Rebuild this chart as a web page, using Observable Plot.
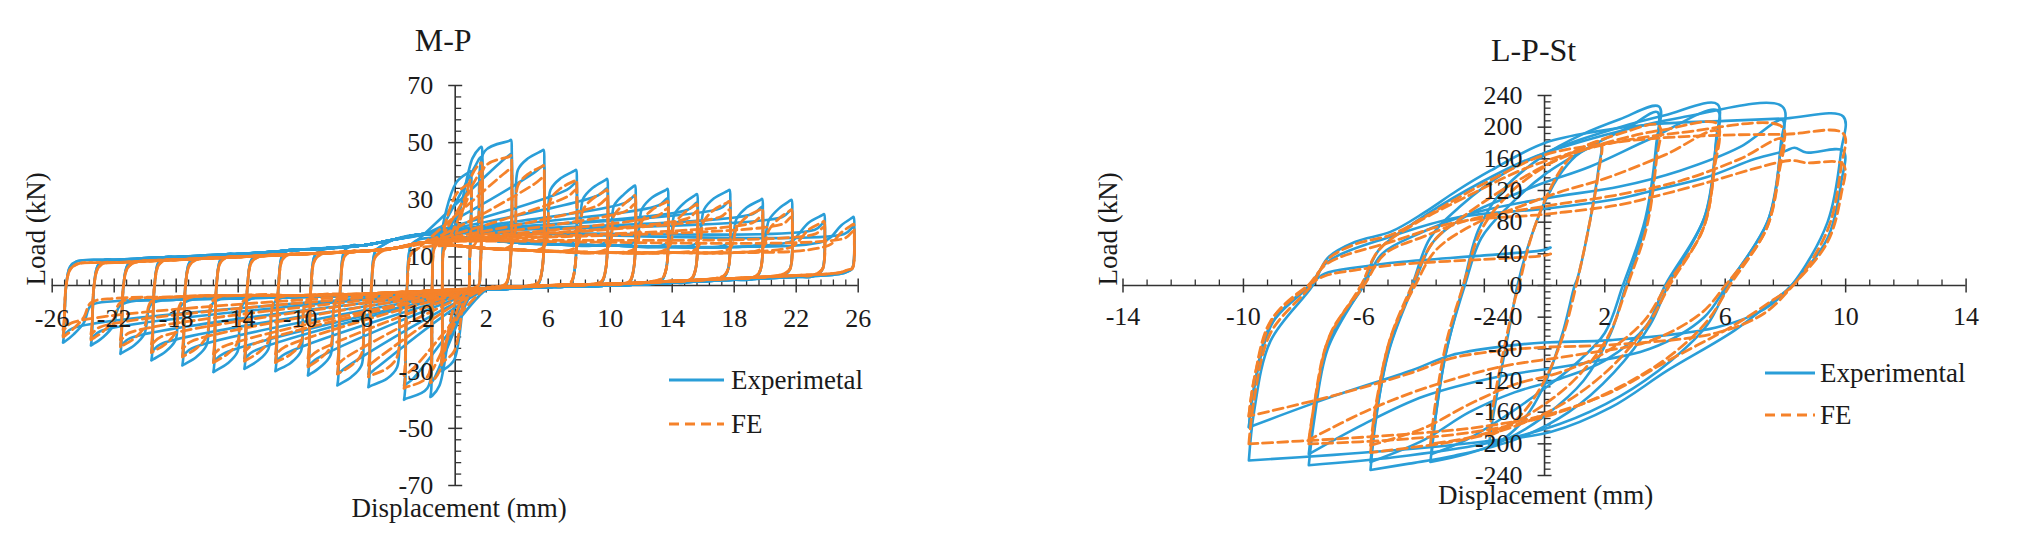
<!DOCTYPE html>
<html><head><meta charset="utf-8">
<script src="https://cdn.jsdelivr.net/npm/d3@7"></script>
<script src="https://cdn.jsdelivr.net/npm/@observablehq/plot@0.6"></script>
<style>
body{margin:0;background:#fff;}
#wrap{position:relative;width:2020px;height:544px;overflow:hidden;background:#fff;}
#wrap svg{position:absolute;top:0;}
</style></head><body><div id="wrap"></div>
<script>
// ---------- M-P (left chart) ----------
const mpXMajor = [-26,-22,-18,-14,-10,-6,-2,2,6,10,14,18,22,26];
const mpYMajor = [70,50,30,10,-10,-30,-50,-70];
const mpAmp  = [1.0, 1.7, 3.6, 5.7, 7.8, 9.8, 11.6, 13.7, 15.6, 17.7, 19.8, 21.7, 23.8, 25.7];
const mpAmpN = [-0.9, -1.6, -3.3, -5.6, -7.6, -9.5, -11.6, -13.6, -15.6, -17.6, -19.6, -21.6, -23.5, -25.3];
// where the steep loading toward a new peak starts
const mpRiseP = [-0.8, -0.3, 1.2, 3.6, 5.7, 7.8, 9.8, 11.6, 13.7, 15.6, 17.7, 19.8, 21.7, 23.8];
const mpRiseN = [0.6, 0.3, -1.2, -3.3, -5.6, -7.6, -9.5, -11.6, -13.6, -15.6, -17.6, -19.6, -21.6, -23.5];
const mpExpPos1 = [40, 48.5, 51, 47.5, 40.5, 37.3, 35, 33.8, 32, 33.5, 30.3, 30, 25, 24];
const mpExpPos2 = [36, 45, 46, 42, 36, 34, 31.5, 30.5, 29, 29.5, 27.5, 26.5, 22, 20.5];
const mpExpNeg1 = [-30, -39, -40, -35.6, -35, -31.5, -30, -29.2, -30.3, -28, -26.2, -23.9, -21, -20];
const mpExpNeg2 = [-27, -34, -35, -31, -31, -28, -26.5, -25.5, -26.5, -24.5, -23, -21, -18.5, -17.5];
const mpFePos1 = [36, 43, 45.5, 42, 37, 33.5, 31.5, 29.5, 28.5, 29.5, 27, 26.5, 22.5, 21.5];
const mpFePos2 = [33, 40, 41, 38, 33.5, 30.5, 28.5, 27, 26, 26.5, 24.5, 24, 20.5, 19];
const mpFeNeg1 = [-27, -34, -36, -32, -31, -28.5, -27, -26.5, -27, -25, -23.5, -21.5, -19, -18];
const mpFeNeg2 = [-24, -30, -31.5, -28, -27.5, -25.5, -24, -23, -24, -22, -20.5, -19, -17, -15.5];
const mpBandX   = [-26,-22,-18,-14,-10,-6,-4,-2,0,2,4,6,10,14,18,22,26];
const mpExpUp   = [8.5, 9, 10, 11, 12.5, 14, 16, 18, 17, 16, 15, 14.5, 14, 13.5, 13.5, 14, 15];
const mpFeUp    = [7.5, 8, 9, 10, 11, 12, 13, 15, 14, 13, 12.5, 12, 11.5, 11.5, 11.5, 12, 13];
const mpExpLow  = [-6, -5.5, -5, -4.5, -4, -3.5, -3, -2.5, -2, -1.5, -1, -0.5, 0, 1, 2, 3, 4];
const mpFeLow   = [-5, -4.5, -4, -3.5, -3.5, -3, -2.5, -2, -1.5, -1, -0.5, 0, 0.5, 1.5, 2.5, 3.5, 4.5];

// ---------- L-P-St (right chart) ----------
const lpXMajor = [-14,-10,-6,-2,2,6,10,14];
const lpYMajor = [240,200,160,120,80,40,0,-40,-80,-120,-160,-200,-240];
const lpExp1 = [[-1.85,-204],[-1.75,-175],[-1.45,-110],[-1.1,-40],[-0.9,0],[-0.5,55],[0,105],[0.6,145],[1.2,168],[1.86,177],[1.8,150],[1.5,80],[1.1,10],[1.0,0],[0.6,-60],[0,-125],[-0.7,-170],[-1.3,-192],[-1.85,-204]];
const lpExp2 = [[-3.79,-223],[-3.65,-175],[-3.3,-90],[-2.7,0],[-2.2,70],[-1.4,120],[0,165],[1.2,190],[2.5,210],[3.8,226],[3.75,185],[3.45,90],[2.7,0],[2.2,-60],[1.3,-120],[0,-165],[-1.3,-195],[-2.6,-213],[-3.79,-223]];
const lpExp2b = [[-3.75,-213],[-3.6,-160],[-3.25,-80],[-2.65,0],[-2.1,60],[-1.2,100],[0,140],[1.5,175],[2.8,200],[3.75,219],[3.7,175],[3.35,85],[2.6,0],[2.0,-60],[1.0,-100],[0,-130],[-1.3,-165],[-2.6,-195],[-3.75,-213]];
const lpExp3 = [[-5.78,-233],[-5.62,-175],[-5.2,-85],[-4.4,0],[-3.8,60],[-2.8,100],[-1.2,145],[0.5,175],[2.5,200],[4,215],[5.74,229],[5.7,185],[5.35,90],[4.1,0],[3.5,-50],[2.3,-110],[0.8,-160],[-1,-195],[-3,-215],[-4.5,-225],[-5.78,-233]];
const lpExp3b = [[-5.78,-223],[-5.6,-165],[-5.15,-80],[-4.35,0],[-3.7,55],[-2.5,90],[-1,115],[0,130],[1.5,150],[3.5,185],[5.74,221],[5.68,175],[5.3,85],[4.0,0],[3.4,-50],[2,-95],[0.5,-118],[-1,-135],[-2.5,-160],[-4,-195],[-5.78,-223]];
const lpExp4 = [[-7.83,-227],[-7.65,-170],[-7.2,-80],[-6.05,0],[-5.5,45],[-4.3,80],[-2.6,120],[-0.5,160],[2,190],[4.5,212],[7.9,226],[7.85,180],[7.45,85],[6.1,0],[5.4,-50],[4.2,-95],[2.5,-140],[0.5,-175],[-2,-200],[-5,-217],[-7.83,-227]];
const lpExp4b = [[-7.83,-213],[-7.65,-160],[-7.15,-70],[-6.0,0],[-5.4,40],[-4.2,65],[-2.5,90],[0,110],[2.5,125],[4.5,145],[6.5,175],[7.9,209],[7.82,165],[7.4,80],[6.05,0],[5.3,-40],[3.5,-80],[1,-100],[-1.5,-115],[-4,-140],[-6,-175],[-7.83,-213]];
const lpExp5 = [[-9.82,-221],[-9.65,-160],[-9.1,-70],[-7.7,0],[-7.2,35],[-6.3,55],[-5.1,68],[-4,92],[-2.9,120],[-1.8,145],[0,180],[1.8,195],[3.7,204],[6,208],[8,211],[9.92,213.5],[9.85,170],[9.4,80],[8.2,0],[7.6,-19],[6.3,-57],[4.1,-107],[2.2,-154],[0.2,-185],[-2,-197],[-4,-205],[-7,-214],[-9.82,-221]];
const lpExp5b = [[-9.82,-179],[-9.65,-130],[-9.1,-50],[-7.8,0],[-7.2,30],[-5.1,62],[-2.9,86],[0,97],[2.5,110],[3.6,120],[5.4,137],[7.0,160],[8.0,170],[8.3,174],[8.7,168],[9.92,170],[9.85,130],[9.4,60],[8.2,0],[7.3,-30],[5.7,-53],[2.2,-69],[0,-72],[-1.4,-77],[-3.1,-88],[-4.4,-107],[-7.1,-141],[-9.82,-179]];
const lpExpEnd = [[-9.82,-179],[-9.6,-120],[-9.0,-45],[-7.8,0],[-7.3,15],[-6.2,23],[-4.7,30],[-2,38],[0,45],[0.2,48]];

const lpFe1 = [[-1.85,-190],[-1.7,-150],[-1.4,-90],[-1.0,-20],[-0.85,0],[-0.45,60],[0.1,115],[0.7,155],[1.3,175],[1.86,181],[1.78,140],[1.45,70],[1.05,0],[0.6,-65],[0,-120],[-0.7,-160],[-1.3,-180],[-1.85,-190]];
const lpFe2 = [[-3.79,-200],[-3.63,-150],[-3.25,-70],[-2.7,0],[-2.1,70],[-1.2,115],[0,150],[1.3,175],[2.6,193],[3.8,202],[3.72,160],[3.4,75],[2.75,0],[2.1,-65],[1.1,-115],[0,-150],[-1.3,-178],[-2.6,-193],[-3.79,-200]];
const lpFe3 = [[-5.78,-211],[-5.6,-155],[-5.15,-70],[-4.4,0],[-3.7,55],[-2.6,90],[-1,130],[0.5,160],[2.5,185],[4,197],[5.74,204],[5.66,160],[5.3,75],[4.15,0],[3.5,-45],[2.3,-100],[0.8,-145],[-1,-178],[-3,-197],[-4.5,-205],[-5.78,-211]];
const lpFe3b = [[-5.78,-202],[-5.6,-150],[-5.1,-65],[-4.3,0],[-3.6,45],[-2.3,78],[-0.8,100],[0.5,118],[2,135],[4,165],[5.74,195],[5.65,150],[5.25,70],[4.05,0],[3.3,-45],[2,-85],[0.5,-110],[-1,-125],[-2.5,-150],[-4,-180],[-5.78,-202]];
const lpFe4 = [[-7.83,-200],[-7.65,-150],[-7.2,-70],[-6.1,0],[-5.5,45],[-4.3,78],[-2.6,112],[-0.5,150],[2,178],[4.5,193],[7.9,200],[7.82,160],[7.4,75],[6.15,0],[5.4,-45],[4.2,-88],[2.5,-128],[0.5,-160],[-2,-183],[-5,-195],[-7.83,-200]];
const lpFe4b = [[-7.83,-195],[-7.6,-140],[-7.1,-60],[-6.0,0],[-5.3,40],[-4,62],[-2.5,83],[0,100],[2.5,115],[4.5,132],[6.5,160],[7.9,185],[7.8,145],[7.35,70],[6.0,0],[5.2,-35],[3.5,-70],[1,-88],[-1.5,-103],[-4,-130],[-6,-160],[-7.83,-195]];
const lpFe5 = [[-9.82,-200],[-9.65,-145],[-9.1,-60],[-7.75,0],[-7.2,33],[-6.3,52],[-5.1,64],[-4,86],[-2.9,110],[-1.8,133],[0,165],[1.8,178],[3.7,186],[6,190],[8,191],[9.92,192],[9.85,150],[9.4,70],[8.25,0],[7.6,-18],[6.3,-50],[4.1,-95],[2.2,-135],[0.2,-162],[-2,-178],[-4,-186],[-7,-194],[-9.82,-200]];
const lpFe5b = [[-9.82,-165],[-9.65,-120],[-9.1,-45],[-7.85,0],[-7.2,28],[-5.1,55],[-2.9,80],[0,90],[2.5,102],[3.6,112],[5.4,130],[7,148],[8.2,158],[8.7,155],[9.92,153],[9.85,115],[9.4,55],[8.25,0],[7.3,-35],[5.7,-60],[2.2,-75],[0,-78],[-1.4,-82],[-3.1,-92],[-4.4,-110],[-7.1,-140],[-9.82,-165]];
const lpFeEnd = [[-9.82,-165],[-9.6,-110],[-9.0,-40],[-7.85,0],[-7.3,12],[-6.2,20],[-4.7,27],[-2,33],[0,38],[0.2,40]];

// ---------- styling ----------
const BLUE = "#2a9ed8", ORANGE = "#f5822a", AXIS = "#333", TXT = "#1a1a1a";
const FONT = '"Liberation Serif", "Times New Roman", serif';

// ---------- build tables ----------
function nearest(ys, x) {
  let b = 0;
  for (let k = 1; k < mpBandX.length; k++) if (Math.abs(mpBandX[k] - x) < Math.abs(mpBandX[b] - x)) b = k;
  return ys[b];
}
function mpCycle(id, i, P, N, up, low, second) {
  const A = mpAmp[i], An = mpAmpN[i];
  const pA = i > 0 ? mpAmp[i - 1] : 0, pAn = i > 0 ? mpAmpN[i - 1] : 0;
  const rs = mpRiseP[i], rn = mpRiseN[i];
  const s = Math.min(1, A / 3);
  const pts = [];
  const add = (x, y) => pts.push({id, x, y});
  add(An, N); add(An + 0.06, N + 3); add(An + 0.2 * s, 0);
  add(An + 0.45 * s, nearest(up, An) - 2); add(An + 0.9 * s, nearest(up, An));
  const lim = second ? 0 : Math.min(pA, rs);
  for (let k = 0; k < mpBandX.length; k++) { const x = mpBandX[k]; if (x > An + 1.3 * s && x < lim - 0.3) add(x, up[k]); }
  if (second) add(A - 0.6 * s, P - 2.5);
  else if (rs < pA - 0.05) { add(rs, nearest(up, rs) + 1); add(pA + 0.2 * s, P - 4); }
  else { add(pA, nearest(up, pA) + 1.5); add(pA + 0.45 * s, P - 7); add(pA + 1.1 * s, P - 3); }
  add(A - 0.12, P - 0.4); add(A, P);
  add(A + 0.05, P - 4); add(A - 0.08, 6); add(A - 0.35 * s, nearest(low, A) + 1); add(A - 0.9 * s, nearest(low, A));
  const limN = second ? 0 : Math.max(pAn, rn);
  for (let k = mpBandX.length - 1; k >= 0; k--) { const x = mpBandX[k]; if (x < A - 1.3 * s && x > limN + 0.3) add(x, low[k]); }
  if (second) add(An + 0.6 * s, N + 2.5);
  else if (rn > pAn + 0.05) { add(rn, nearest(low, rn) - 1); add(pAn - 0.2 * s, N + 4); }
  else { add(pAn, nearest(low, pAn) - 1.5); add(pAn - 0.45 * s, N + 7); add(pAn - 1.1 * s, N + 3); }
  add(An + 0.12, N + 0.4); add(An, N);
  return pts;
}
const mpExpRows = [], mpFeRows = [];
mpAmp.forEach((a, i) => {
  mpExpRows.push(...mpCycle("e1-" + i, i, mpExpPos1[i], mpExpNeg1[i], mpExpUp, mpExpLow, false));
  mpExpRows.push(...mpCycle("e2-" + i, i, mpExpPos2[i], mpExpNeg2[i], mpExpUp, mpExpLow, true));
  mpFeRows.push(...mpCycle("f1-" + i, i, mpFePos1[i], mpFeNeg1[i], mpFeUp, mpFeLow, false));
  mpFeRows.push(...mpCycle("f2-" + i, i, mpFePos2[i], mpFeNeg2[i], mpFeUp, mpFeLow, true));
});
const rows = (list) => list.flatMap((pairs, k) => pairs.map(([x, y]) => ({id: k, x, y})));
const lpExpRows = rows([lpExp1, lpExp2, lpExp2b, lpExp3, lpExp3b, lpExp4, lpExp4b, lpExp5, lpExp5b, lpExpEnd]);
const lpFeRows = rows([lpFe1, lpFe2, lpFe3, lpFe3b, lpFe4, lpFe4b, lpFe5, lpFe5b, lpFeEnd]);

// ---------- tick symbols ----------
const symCrossV = {draw(c) { c.moveTo(0, -7); c.lineTo(0, 7); }};
const symUp = {draw(c) { c.moveTo(0, 0); c.lineTo(0, -6); }};
const symCrossH = {draw(c) { c.moveTo(-7, 0); c.lineTo(7, 0); }};
const symRight = {draw(c) { c.moveTo(0, 0); c.lineTo(6, 0); }};

function chart(cfg) {
  const xMinor = d3.range(cfg.xd[0], cfg.xd[1] + 1e-9, cfg.xMinorStep).filter(v => !cfg.xMajor.some(m => Math.abs(m - v) < 1e-6));
  const yMinor = d3.range(cfg.yd[0], cfg.yd[1] + 1e-9, cfg.yMinorStep).filter(v => !cfg.yMajorTicks.some(m => Math.abs(m - v) < 1e-6));
  return Plot.plot({
    width: 1010, height: 544,
    marginLeft: cfg.ml, marginRight: 1010 - cfg.xr, marginTop: cfg.yt, marginBottom: 544 - cfg.yb,
    x: {domain: cfg.xd, axis: null},
    y: {domain: cfg.yd, axis: null},
    style: {fontFamily: FONT, background: "transparent", overflow: "visible"},
    marks: [
      Plot.ruleY([0], {stroke: AXIS, strokeWidth: 1.6}),
      Plot.ruleX([0], {stroke: AXIS, strokeWidth: 1.6}),
      Plot.dot(cfg.xMajor, {x: d => d, y: 0, symbol: symCrossV, stroke: AXIS, strokeWidth: 1.5, fill: "none"}),
      Plot.dot(xMinor, {x: d => d, y: 0, symbol: symUp, stroke: AXIS, strokeWidth: 1.3, fill: "none"}),
      Plot.dot(cfg.yMajorTicks, {x: 0, y: d => d, symbol: symCrossH, stroke: AXIS, strokeWidth: 1.5, fill: "none"}),
      Plot.dot(yMinor, {x: 0, y: d => d, symbol: symRight, stroke: AXIS, strokeWidth: 1.3, fill: "none"}),
      Plot.line(cfg.exp, {x: "x", y: "y", z: "id", stroke: BLUE, strokeWidth: 2.6, curve: "catmull-rom"}),
      Plot.line(cfg.fe, {x: "x", y: "y", z: "id", stroke: ORANGE, strokeWidth: 2.8, strokeDasharray: "10,5", curve: "catmull-rom"}),
      Plot.text(cfg.xMajor, {x: d => d, y: 0, dy: cfg.xLabelDy, text: d => String(d), fontSize: 26, fill: TXT}),
      Plot.text(cfg.yLabels, {x: 0, y: d => d, dx: -22, text: d => String(d), textAnchor: "end", fontSize: 26, fill: TXT}),
      Plot.text([cfg.title], {frameAnchor: "top", dx: cfg.titleDx, dy: cfg.titleDy, text: d => d, lineAnchor: "bottom", fontSize: 32, fill: TXT}),
      Plot.text(["Displacement (mm)"], {frameAnchor: "bottom", dx: cfg.xtDx, dy: cfg.xtDy, text: d => d, lineAnchor: "bottom", fontSize: 27, fill: TXT}),
      Plot.text(["Load (kN)"], {frameAnchor: "left", dx: cfg.ytDx, rotate: -90, text: d => d, fontSize: 27, fill: TXT})
    ]
  });
}

const wrap = document.getElementById("wrap");
const left = chart({
  xd: [-26, 26], yd: [-70, 70], ml: 51.7, xr: 857.7, yt: 85, yb: 485,
  xMajor: mpXMajor, xMinorStep: 0.8, yMajorTicks: mpYMajor, yMinorStep: 4, yLabels: mpYMajor,
  exp: mpExpRows, fe: mpFeRows, xLabelDy: 33,
  title: "M-P", titleDx: -12, titleDy: -35, xtDx: 4, xtDy: 31, ytDx: -16
});
left.style.left = "0px";
wrap.appendChild(left);
const right = chart({
  xd: [-14, 14], yd: [-240, 240], ml: 112.5, xr: 955.6, yt: 95, yb: 475,
  xMajor: lpXMajor, xMinorStep: 0.8, yMajorTicks: lpYMajor, yMinorStep: 8, yLabels: lpYMajor,
  exp: lpExpRows, fe: lpFeRows, xLabelDy: 31,
  title: "L-P-St", titleDx: -11, titleDy: -35, xtDx: 1, xtDy: 28, ytDx: -15
});
right.style.left = "1010px";
wrap.appendChild(right);

// ---------- legends ----------
const leg = d3.select(wrap).append("svg").attr("width", 2020).attr("height", 544).style("left", "0px")
  .style("font-family", FONT);
function legend(x0, x1, tx, yE, yF, label) {
  leg.append("line").attr("x1", x0).attr("x2", x1).attr("y1", yE).attr("y2", yE).attr("stroke", BLUE).attr("stroke-width", 3);
  leg.append("line").attr("x1", x0).attr("x2", x1).attr("y1", yF).attr("y2", yF).attr("stroke", ORANGE).attr("stroke-width", 3).attr("stroke-dasharray", "10,6");
  leg.append("text").attr("x", tx).attr("y", yE).attr("dy", "0.32em").attr("font-size", 27).attr("fill", TXT).text(label);
  leg.append("text").attr("x", tx).attr("y", yF).attr("dy", "0.32em").attr("font-size", 27).attr("fill", TXT).text("FE");
}
legend(669, 724, 731, 380, 424, "Experimetal");
legend(1765, 1815, 1820, 373, 415, "Experimental");
</script></body></html>
